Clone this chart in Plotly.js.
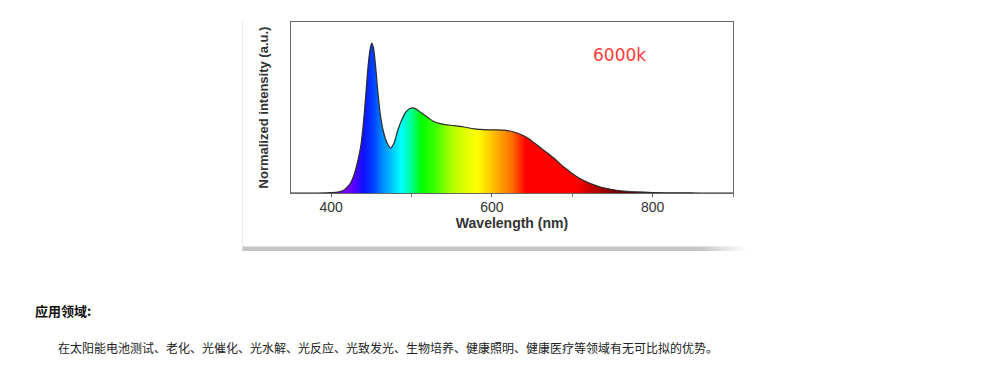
<!DOCTYPE html>
<html>
<head>
<meta charset="utf-8">
<script src="https://cdn.plot.ly/plotly-3.0.1.min.js"></script>
<style>
  html, body { margin: 0; padding: 0; background: #ffffff; }
  #chart { width: 991px; height: 379px; }
</style>
</head>
<body>
<div id="chart"></div>
<script>
// Spectrum (wavelength in nm, normalized intensity)
const wavelength = [350, 380, 400, 410, 416, 421, 425, 429, 433, 437, 440, 443, 446, 448.5, 450.5, 452.5, 455, 458, 461, 465, 469, 474, 478, 483, 488, 493, 498, 502, 507, 512, 520, 528, 540, 553, 565, 578, 590, 603, 615, 625, 636, 645, 653, 661, 669, 678, 686, 694, 702, 710, 719, 727, 735, 748, 760, 780, 800, 830, 860, 900];
const intensity  = [0, 0, 0.002, 0.008, 0.02, 0.045, 0.075, 0.13, 0.21, 0.32, 0.46, 0.65, 0.85, 0.96, 1.0, 0.97, 0.86, 0.68, 0.53, 0.41, 0.34, 0.30, 0.33, 0.42, 0.49, 0.54, 0.563, 0.567, 0.555, 0.535, 0.505, 0.475, 0.458, 0.449, 0.44, 0.428, 0.422, 0.421, 0.419, 0.41, 0.39, 0.365, 0.333, 0.30, 0.267, 0.228, 0.189, 0.155, 0.122, 0.095, 0.071, 0.054, 0.04, 0.025, 0.015, 0.007, 0.003, 0.001, 0, 0];

const tickValues = [400, 600, 800];
const tickLabels = ['400', '600', '800'];
const xTitle = 'Wavelength (nm)';
const yTitle = 'Normalized intensity (a.u.)';
const cctLabel = '6000k';
const sectionTitle = '应用领域:';
const sectionText = '在太阳能电池测试、老化、光催化、光水解、光反应、光致发光、生物培养、健康照明、健康医疗等领域有无可比拟的优势。';

// Spectral colour stops (wavelength nm -> colour)
const spectrumNm = [400, 418, 430, 440, 452, 465, 487, 500, 512, 530, 550, 570, 582, 598, 612, 625, 635, 642, 705, 725, 750, 780, 800];
const spectrumColors = ['#7000ff', '#7a00ff', '#5000ff', '#1010ff', '#0040ff', '#0090ff', '#00ffff', '#00ff90', '#00ff00', '#40ff00', '#b0ff00', '#e8ff00', '#ffff00', '#ffcc00', '#ff9900', '#ff7000', '#ff3000', '#ff0000', '#ff0000', '#c00000', '#800000', '#500000', '#400000'];

const gStart = spectrumNm[0], gStop = spectrumNm[spectrumNm.length - 1];
const colorscale = spectrumNm.map((nm, i) => [(nm - gStart) / (gStop - gStart), spectrumColors[i]]);

// Plot-area geometry in pixels
const L = 291, R = 733, T = 22, B = 193, W = 991, H = 379;
const px = x => (x - L) / (R - L);
const py = y => (B - y) / (B - T);

const trace = {
  type: 'scatter',
  mode: 'lines',
  x: wavelength,
  y: intensity,
  line: { color: '#2a2a2a', width: 1.2, shape: 'spline', smoothing: 0.8 },
  fill: 'tozeroy',
  fillgradient: { type: 'horizontal', colorscale: colorscale, start: gStart, stop: gStop },
  hoverinfo: 'skip',
  showlegend: false
};

// Image-like shadow under the chart picture
function grey(t) { // t: 0 = shadow grey, 1 = white
  const v = Math.round(198 + (255 - 198) * t);
  return 'rgb(' + v + ',' + v + ',' + v + ')';
}
const shapes = [
  { type: 'line', xref: 'paper', yref: 'paper', x0: px(242.5), x1: px(242.5), y0: py(20), y1: py(249), line: { color: '#ececec', width: 1 } },
  { type: 'rect', xref: 'paper', yref: 'paper', x0: px(242), x1: px(702), y0: py(251), y1: py(246.5), fillcolor: grey(0), line: { width: 0 }, layer: 'below' }
];
const fadeSegs = 10;
for (let i = 0; i < fadeSegs; i++) {
  const xa = 701 + i * 45 / fadeSegs;
  const xb = 701 + (i + 1) * 45 / fadeSegs + 0.6;
  shapes.push({ type: 'rect', xref: 'paper', yref: 'paper', x0: px(xa), x1: px(xb), y0: py(251), y1: py(246.5), fillcolor: grey((i + 0.5) / fadeSegs), line: { width: 0 }, layer: 'below' });
}

const layout = {
  width: W, height: H,
  margin: { l: L, r: W - R, t: T, b: H - B, pad: 0 },
  paper_bgcolor: '#ffffff',
  plot_bgcolor: '#ffffff',
  font: { family: 'Liberation Sans, Arial, sans-serif', color: '#333333' },
  xaxis: {
    range: [350, 900],
    tickvals: tickValues,
    ticktext: tickLabels,
    ticks: 'outside', ticklen: 3, tickcolor: '#555', tickwidth: 1,
    ticklabelstandoff: -2,
    minor: { dtick: 100, tick0: 0, ticks: 'outside', ticklen: 3, tickcolor: '#777' },
    tickfont: { size: 14, color: '#333' },
    showgrid: false, zeroline: false,
    showline: true, linecolor: '#666', linewidth: 1, mirror: true,
    title: { text: xTitle, font: { size: 14, color: '#333', family: 'Liberation Sans, Arial, sans-serif', weight: 'bold' }, standoff: 0 }
  },
  yaxis: {
    range: [0, 1.14],
    showticklabels: false,
    ticks: '',
    showgrid: false, zeroline: false,
    showline: true, linecolor: '#666', linewidth: 1, mirror: true,
    title: { text: yTitle, font: { size: 13, color: '#333', family: 'Liberation Sans, Arial, sans-serif', weight: 'bold' }, standoff: 18 }
  },
  shapes: shapes,
  annotations: [
    { xref: 'x', yref: 'y', x: 759, y: 0.92, text: cctLabel, showarrow: false,
      font: { size: 17, color: '#ff3a3a', family: 'DejaVu Sans, sans-serif' } },
    { xref: 'paper', yref: 'paper', x: px(33), y: py(310), xanchor: 'left', yanchor: 'middle', text: '<b>' + sectionTitle + '</b>', showarrow: false,
      font: { size: 13, color: '#111', family: 'Noto Sans CJK SC, sans-serif' } },
    { xref: 'paper', yref: 'paper', x: px(56), y: py(347), xanchor: 'left', yanchor: 'middle', text: sectionText, showarrow: false,
      font: { size: 12, color: '#222', family: 'Noto Sans CJK SC, sans-serif' } }
  ]
};

Plotly.newPlot('chart', [trace], layout, { displayModeBar: false, staticPlot: true });
</script>
</body>
</html>
